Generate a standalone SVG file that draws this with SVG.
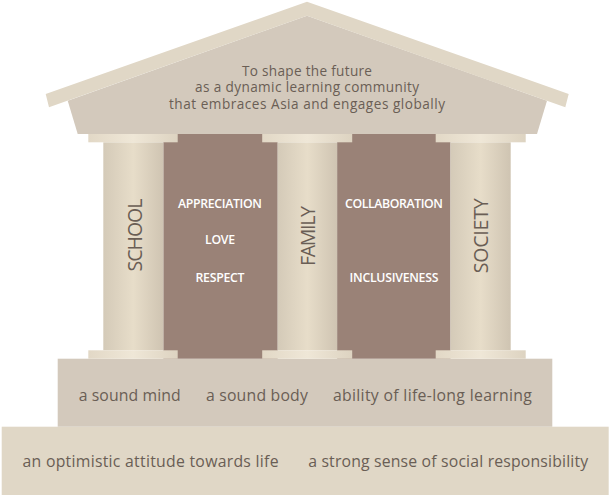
<svg xmlns="http://www.w3.org/2000/svg" width="609" height="496" viewBox="0 0 609 496">
<style>
  .t { font-family: "Open Sans", "Liberation Sans", sans-serif; fill: #6a5e55; text-anchor: middle; font-weight: 500; }
  .roof { font-size: 13.6px; }
  .step { font-size: 15.8px; }
  .col { font-size: 19.5px; }
  .val { font-family: "Open Sans", "Liberation Sans", sans-serif; font-size: 12.3px; font-weight: 600; fill: #ffffff; text-anchor: middle; }
  .panel { fill: #9a8277; }
  .cap { fill: url(#capG); }
  .shaft { fill: url(#shaftG); }
</style>
<defs>
  <linearGradient id="shaftG" x1="0" y1="0" x2="1" y2="0">
    <stop offset="0" stop-color="#d4cab8"/>
    <stop offset="0.5" stop-color="#e7ddc9"/>
    <stop offset="1" stop-color="#cfc4b2"/>
  </linearGradient>
  <linearGradient id="capG" x1="0" y1="0" x2="1" y2="0">
    <stop offset="0" stop-color="#e2d8c6"/>
    <stop offset="0.5" stop-color="#efe7d7"/>
    <stop offset="1" stop-color="#ddd3c1"/>
  </linearGradient>
</defs>

<g id="base">
  <rect x="1.7" y="426.7" width="607" height="68.3" fill="#e0d7c6"/>
  <text class="t step" x="150.5" y="466.7" textLength="256">an optimistic attitude towards life</text>
  <text class="t step" x="448.2" y="466.7" textLength="280">a strong sense of social responsibility</text>
</g>

<g id="plinth">
  <rect x="57.7" y="358.7" width="494.6" height="68" fill="#d3c9bc"/>
  <text class="t step" x="129.7" y="401" textLength="102">a sound mind</text>
  <text class="t step" x="256.9" y="401" textLength="102">a sound body</text>
  <text class="t step" x="432.4" y="401" textLength="199">ability of life-long learning</text>
</g>

<g id="panel-left">
  <rect class="panel" x="163.3" y="134" width="114.4" height="224.7"/>
  <text class="val" x="220" y="208.3" textLength="84">APPRECIATION</text>
  <text class="val" x="220" y="244.3" textLength="30">LOVE</text>
  <text class="val" x="220" y="282" textLength="49">RESPECT</text>
</g>

<g id="panel-right">
  <rect class="panel" x="337.1" y="134" width="113.4" height="224.7"/>
  <text class="val" x="394" y="208.3" textLength="98">COLLABORATION</text>
  <text class="val" x="394" y="282" textLength="89">INCLUSIVENESS</text>
</g>

<g id="column-school">
  <rect class="shaft" x="103.3" y="142.3" width="60" height="208"/>
  <rect class="cap" x="88.3" y="134" width="89.4" height="8.3"/>
  <rect class="cap" x="88.3" y="350.3" width="89.4" height="8.4"/>
  <text class="t col" transform="translate(142.3 235) rotate(-90)" x="0" y="0" textLength="73">SCHOOL</text>
</g>

<g id="column-family">
  <rect class="shaft" x="277.7" y="142.3" width="59.4" height="208"/>
  <rect class="cap" x="262.2" y="134" width="90" height="8.3"/>
  <rect class="cap" x="262.2" y="350.3" width="90" height="8.4"/>
  <text class="t col" transform="translate(315 236) rotate(-90)" x="0" y="0" textLength="60">FAMILY</text>
</g>

<g id="column-society">
  <rect class="shaft" x="450.5" y="142.3" width="60.2" height="208"/>
  <rect class="cap" x="435.7" y="134" width="90" height="8.3"/>
  <rect class="cap" x="435.7" y="350.3" width="90" height="8.4"/>
  <text class="t col" transform="translate(488.3 235.8) rotate(-90)" x="0" y="0" textLength="75">SOCIETY</text>
</g>

<g id="roof">
  <polygon points="307,15.7 67.7,100.7 77.7,134 537,134 547,100.7" fill="#d3c9bc"/>
  <polygon points="307,1.8 45.7,94 49,107.3 307,15.7 565.3,107.3 568.7,94" fill="#e0d7c6"/>
  <text class="t roof" x="307" y="75.7" textLength="130">To shape the future</text>
  <text class="t roof" x="307" y="92.4" textLength="224">as a dynamic learning community</text>
  <text class="t roof" x="307" y="109" textLength="276">that embraces Asia and engages globally</text>
</g>

<g id="connectors"></g>
</svg>
